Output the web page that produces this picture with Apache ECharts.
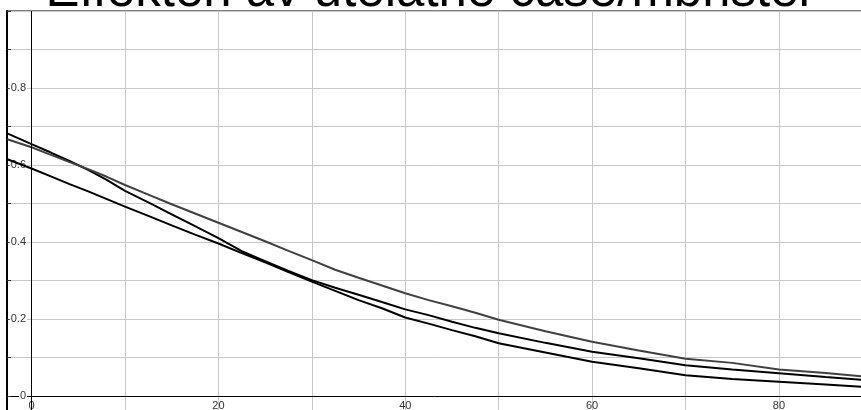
<!DOCTYPE html>
<html>
<head>
<meta charset="utf-8">
<style>
  html, body { margin: 0; padding: 0; background: #fff; }
  #chart { width: 861px; height: 410px; }
</style>
<script src="https://cdn.jsdelivr.net/npm/echarts@6/dist/echarts.min.js"></script>
</head>
<body>
<div id="chart"></div>
<script>
// Time points (x) shared by all three curves
const xs = [-2.6, 0, 2, 4, 6, 8, 10, 12.5, 15, 17.5, 20, 22.5, 25, 27.5, 30, 32.5, 35, 37.5, 40,
            42.5, 45, 47.5, 50, 55, 60, 65, 70, 75, 80, 85, 88.8];

// Curve A: starts highest, ends in the middle
const curveA = [0.682, 0.654, 0.633, 0.611, 0.588, 0.562, 0.533, 0.503, 0.472, 0.441, 0.410, 0.376,
                0.350, 0.325, 0.301, 0.281, 0.263, 0.244, 0.225, 0.210, 0.193, 0.177, 0.163, 0.138,
                0.115, 0.098, 0.080, 0.069, 0.059, 0.049, 0.042];

// Curve B (grey): ends on top
const curveB = [0.667, 0.646, 0.627, 0.608, 0.590, 0.570, 0.548, 0.523, 0.498, 0.474, 0.450, 0.426,
                0.402, 0.377, 0.353, 0.328, 0.307, 0.287, 0.267, 0.249, 0.233, 0.216, 0.198, 0.168,
                0.141, 0.118, 0.097, 0.086, 0.069, 0.060, 0.051];

// Curve C: lowest
const curveC = [0.615, 0.591, 0.571, 0.551, 0.532, 0.512, 0.492, 0.468, 0.443, 0.419, 0.396, 0.371,
                0.347, 0.322, 0.297, 0.273, 0.249, 0.228, 0.204, 0.188, 0.171, 0.155, 0.137, 0.113,
                0.089, 0.072, 0.054, 0.044, 0.037, 0.030, 0.024];

const titleText = 'Effekten av utelatne case/mbrister';

const pairs = (ys) => xs.map((x, i) => [x, ys[i]]);
const font = '"Liberation Sans", Arial, sans-serif';

// Plot frame: the value range below zero is kept so the axis sits a little above the bottom edge
const Y_MIN = -0.0416, Y_MAX = 1;
const GRID = { left: 7, right: -2, top: 11, bottom: -2 };
const plotH = 410 - GRID.top - GRID.bottom;
// distance from the bottom of the plot to the zero line, so the x axis is drawn at y = 0
const zeroOffset = -plotH * (0 - Y_MIN) / (Y_MAX - Y_MIN);

const yLabel = (v) => {
  const r = Math.round(v * 10);
  if (Math.abs(v * 10 - r) > 1e-6 || r < 0 || r >= 10 || r % 2 !== 0) return '';
  return r === 0 ? '0' : (r / 10).toFixed(1);
};

const el = document.getElementById('chart');
const chart = echarts.init(el, null, { renderer: 'canvas' });

chart.setOption({
  animation: false,
  backgroundColor: '#fff',
  // big heading, mostly running off the top edge
  graphic: [{
    type: 'text',
    z: 10,
    x: el.clientWidth / 2,
    y: 17,
    silent: true,
    style: {
      text: titleText,
      font: '51px ' + font,
      fill: '#000',
      align: 'center', textAlign: 'center',
      verticalAlign: 'bottom', textVerticalAlign: 'bottom'
    }
  }],
  grid: Object.assign({
    containLabel: false,
    outerBoundsMode: 'none',
    show: true, borderColor: '#000', borderWidth: 1, backgroundColor: 'transparent'
  }, GRID),
  xAxis: {
    type: 'value',
    z: 1,
    position: 'bottom',
    offset: zeroOffset,
    min: -2.63, max: 89,
    splitNumber: 9, minInterval: 10, maxInterval: 10,
    axisLine: { onZero: false, lineStyle: { color: '#000', width: 1 } },
    axisTick: { show: false },
    axisLabel: {
      margin: 4, color: '#333', fontSize: 11, fontFamily: font,
      showMinLabel: true, showMaxLabel: true,
      formatter: (v) => {
        const r = Math.round(v);
        return (Math.abs(v - r) < 1e-6 && r >= 0 && r % 20 === 0) ? String(r) : '';
      }
    },
    splitLine: { show: true, lineStyle: { color: '#c8c8c8', width: 1 } }
  },
  yAxis: [
    {
      // visible axis: thick left line, ticks and labels
      type: 'value',
      z: 2,
      min: Y_MIN, max: Y_MAX,
      splitNumber: 10, minInterval: 0.1, maxInterval: 0.1,
      axisLine: { show: true, onZero: false, lineStyle: { color: '#000', width: 2 } },
      axisTick: { show: true, inside: true, length: 4, lineStyle: { color: '#333' } },
      axisLabel: {
        inside: true, align: 'right', margin: 20,
        color: '#333', fontSize: 11, fontFamily: font,
        backgroundColor: '#fff', padding: [0, 1],
        showMinLabel: true, showMaxLabel: true,
        formatter: yLabel
      },
      splitLine: { show: false }
    },
    {
      // horizontal grid lines, drawn underneath the x axis line
      type: 'value',
      z: 0,
      position: 'left',
      min: Y_MIN, max: Y_MAX,
      splitNumber: 10, minInterval: 0.1, maxInterval: 0.1,
      axisLine: { show: false },
      axisTick: { show: false },
      axisLabel: { show: false },
      splitLine: { show: true, lineStyle: { color: '#c8c8c8', width: 1 } }
    }
  ],
  series: [
    {
      name: 'A', type: 'line', data: pairs(curveA),
      showSymbol: false, symbol: 'none',
      lineStyle: { color: '#000', width: 2 },
      markLine: {
        silent: true, symbol: 'none', animation: false,
        label: { show: false },
        lineStyle: { color: '#000', width: 1, type: 'solid' },
        data: [{ xAxis: 0 }]
      }
    },
    {
      name: 'B', type: 'line', data: pairs(curveB),
      showSymbol: false, symbol: 'none',
      lineStyle: { color: '#404040', width: 2 }
    },
    {
      name: 'C', type: 'line', data: pairs(curveC),
      showSymbol: false, symbol: 'none',
      lineStyle: { color: '#000', width: 2 }
    }
  ]
});
</script>
</body>
</html>
